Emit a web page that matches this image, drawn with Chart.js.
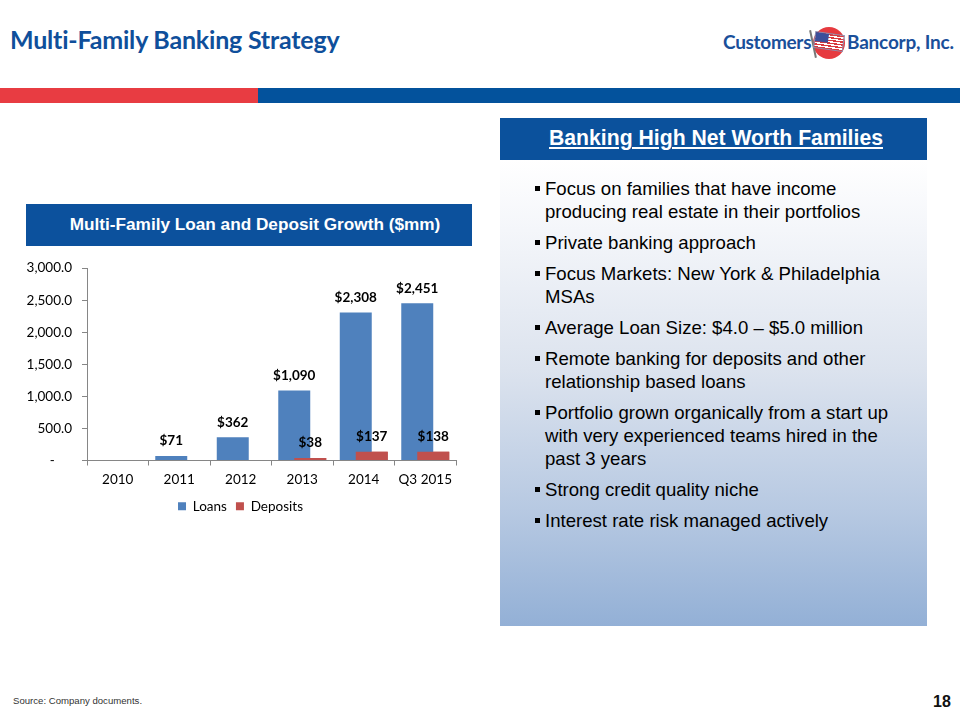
<!DOCTYPE html>
<html>
<head>
<meta charset="utf-8">
<script src="https://cdn.jsdelivr.net/npm/chart.js@4.4.1/dist/chart.umd.min.js"></script>
<style>
  html, body { margin:0; padding:0; background:#fff; }
  #page { position:relative; width:960px; height:720px; overflow:hidden; background:#fff; font-family:"Liberation Sans", Arial, sans-serif; }
  .abs { position:absolute; }
  #title { left:10px; top:24px; font:bold 25px Lato, sans-serif; color:#0f4f9b; letter-spacing:-0.2px; white-space:nowrap; font-variant-ligatures:none; }
  #logo1 { left:723px; top:30px; font:bold 19px Lato, sans-serif; color:#1a4f9a; letter-spacing:-0.3px; }
  #logo2 { left:847px; top:30px; font:bold 19px Lato, sans-serif; color:#1a4f9a; letter-spacing:-0.2px; }
  #sun { left:813px; top:27px; width:32px; height:32px; border-radius:50%; background:#e63a3f; }
  #flag { left:814px; top:33px; width:30px; height:17px; transform:rotate(8deg);
          background:repeating-linear-gradient(180deg,#d83a3e 0px,#d83a3e 1.4px,#ffffff 1.4px,#ffffff 2.8px); border:1px solid #8a8fb0; box-sizing:border-box; }
  #canton { left:0; top:0; width:13px; height:9px; background:#3b4f9a; }
  #pole { left:812px; top:30px; width:2px; height:28px; background:#777; transform:rotate(-12deg); }
  #redbar { left:0; top:88px; width:258px; height:15px; background:#e83c42; }
  #bluebar { left:258px; top:88px; width:702px; height:15px; background:#03529c; }
  #ctitle { left:26px; top:204px; width:446px; height:42px; background:#0c519d; color:#fff; font:bold 17.2px "Liberation Sans", Arial, sans-serif; line-height:41px; text-align:center; box-sizing:border-box; padding-left:12px; white-space:nowrap; }
  #chartbox { left:0px; top:250px; width:480px; height:280px; }
  #phead { left:500px; top:118px; width:427px; height:42px; background:#0b519c; color:#fff; font:bold 21.2px "Liberation Sans", Arial, sans-serif; line-height:40px; text-align:center; box-sizing:border-box; padding-left:5px; white-space:nowrap; }
  #phead span { text-decoration:underline; text-underline-offset:2px; text-decoration-thickness:1.5px; }
  #pbody { left:500px; top:160px; width:427px; height:466px; background:linear-gradient(180deg,#ffffff 0%,#f4f6fa 15%,#dce3ee 45%,#b7c9e2 75%,#93b0d6 100%); }
  #bullets { left:534px; top:177px; width:390px; font:18.6px "Liberation Sans", Arial, sans-serif; color:#000; line-height:23px; }
  #bullets p { margin:0 0 8px 0; padding-left:11px; position:relative; white-space:nowrap; }
  #bullets p::before { content:""; position:absolute; left:1px; top:9px; width:5px; height:5px; background:#000; }
  #source { left:13px; top:695px; font:9.6px "Liberation Sans", Arial, sans-serif; color:#333; }
  #pnum { left:933px; top:693px; font:bold 16px "Liberation Sans", Arial, sans-serif; color:#111; }
</style>
</head>
<body>
<div id="page">
  <div id="title" class="abs">Multi-Family Banking Strategy</div>
  <div id="logo1" class="abs">Customers</div>
  <div id="sun" class="abs"></div>
  <div id="pole" class="abs"></div>
  <div id="flag" class="abs"><div id="canton" class="abs"></div></div>
  <div id="logo2" class="abs">Bancorp, Inc.</div>
  <div id="redbar" class="abs"></div>
  <div id="bluebar" class="abs"></div>

  <div id="ctitle" class="abs">Multi-Family Loan and Deposit Growth ($mm)</div>
  <div id="chartbox" class="abs"><canvas id="c" width="480" height="280"></canvas></div>

  <div id="phead" class="abs"><span>Banking High Net Worth Families</span></div>
  <div id="pbody" class="abs"></div>
  <div id="bullets" class="abs">
    <p>Focus on families that have income<br>producing real estate in their portfolios</p>
    <p>Private banking approach</p>
    <p>Focus Markets: New York &amp; Philadelphia<br>MSAs</p>
    <p>Average Loan Size: $4.0 – $5.0 million</p>
    <p>Remote banking for deposits and other<br>relationship based loans</p>
    <p>Portfolio grown organically from a start up<br>with very experienced teams hired in the<br>past 3 years</p>
    <p>Strong credit quality niche</p>
    <p>Interest rate risk managed actively</p>
  </div>

  <div id="source" class="abs">Source: Company documents.</div>
  <div id="pnum" class="abs">18</div>
</div>

<script>
const categories = ["2010", "2011", "2012", "2013", "2014", "Q3 2015"];
const loans = [null, 71, 362, 1090, 2308, 2451];
const deposits = [null, null, null, 38, 137, 138];
const seriesNames = ["Loans", "Deposits"];
const yTicks = [0, 500, 1000, 1500, 2000, 2500, 3000];

const AXIS = "#868686";

const labelPlugin = {
  id: "valueLabels",
  afterDatasetsDraw(chart) {
    const ctx = chart.ctx;
    const area = chart.chartArea;
    // deposits sit in front of loans (overlapping bars)
    ctx.save();
    ctx.beginPath();
    ctx.rect(area.left, area.top, area.right - area.left, area.bottom - area.top);
    ctx.clip();
    chart.getDatasetMeta(1).data.forEach(el => el.draw(ctx));
    ctx.restore();

    ctx.save();
    ctx.font = "bold 13.5px Lato, sans-serif";
    ctx.fillStyle = "#000";
    ctx.textAlign = "center";
    ctx.textBaseline = "middle";
    chart.data.datasets.forEach((ds, di) => {
      const meta = chart.getDatasetMeta(di);
      meta.data.forEach((el, i) => {
        const v = ds.data[i];
        if (v === null || v === undefined) return;
        ctx.fillText("$" + v.toLocaleString("en-US"), el.x, el.y - 15);
      });
    });
    ctx.restore();
  }
};

new Chart(document.getElementById("c"), {
  type: "bar",
  data: {
    labels: categories,
    datasets: [
      { label: seriesNames[0], data: loans, backgroundColor: "#4f81bd", categoryPercentage: 0.52, barPercentage: 2.0 },
      { label: seriesNames[1], data: deposits, backgroundColor: "#c0504d", categoryPercentage: 0.52, barPercentage: 2.0 }
    ]
  },
  options: {
    responsive: false,
    animation: false,
    devicePixelRatio: 1,
    layout: { padding: { left: 25, right: 24, top: 18, bottom: 7 } },
    plugins: {
      legend: {
        position: "bottom",
        labels: { boxWidth: 8, boxHeight: 8, padding: 9, color: "#000", font: { family: "Lato", size: 13.5 } }
      },
      tooltip: { enabled: false }
    },
    scales: {
      x: {
        grid: { display: true, offset: true, drawOnChartArea: false, drawTicks: true, tickLength: 5, color: AXIS },
        border: { display: true, color: AXIS, width: 1 },
        ticks: { color: "#000", padding: 6, font: { family: "Lato", size: 13.5 }, maxRotation: 0 },
        afterFit(s) { s.height = 30; }
      },
      y: {
        min: 0, max: 3000,
        afterBuildTicks(s) { s.ticks = yTicks.map(v => ({ value: v })); },
        grid: { display: true, drawOnChartArea: false, drawTicks: true, tickLength: 5, color: AXIS },
        border: { display: true, color: AXIS, width: 1 },
        ticks: {
          color: "#000", padding: 10, font: { family: "Lato", size: 13.5 },
          callback: v => v === 0 ? "-     " : v.toLocaleString("en-US", { minimumFractionDigits: 1, maximumFractionDigits: 1 })
        },
        afterFit(s) { s.width = 62; }
      }
    }
  },
  plugins: [labelPlugin]
});
</script>
</body>
</html>
